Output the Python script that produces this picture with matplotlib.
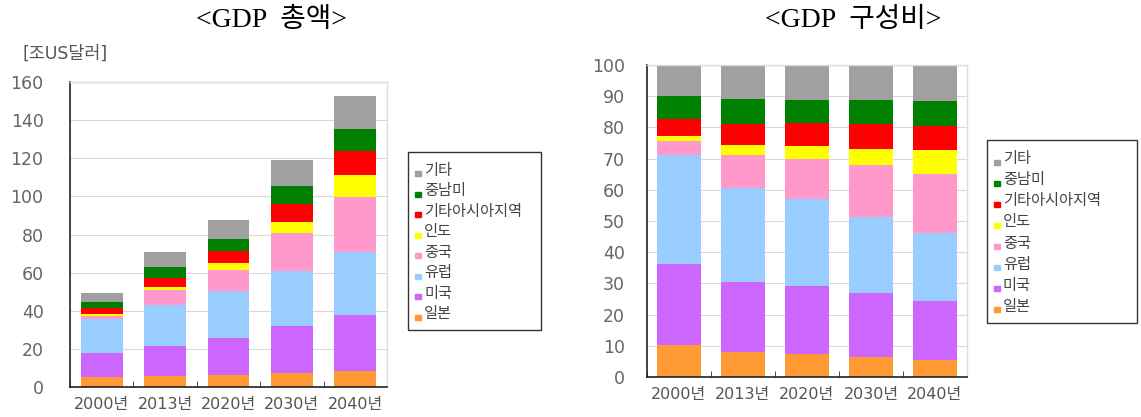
import numpy as np
import matplotlib.pyplot as plt
from matplotlib.patches import Rectangle

plt.rcParams['font.family'] = ['DejaVu Sans', 'Noto Sans CJK KR']

years = ['2000년', '2013년', '2020년', '2030년', '2040년']
regions = ['일본', '미국', '유럽', '중국', '인도', '기타아시아지역', '중남미', '기타']
colors = ['#FF9933', '#CC66FF', '#99CCFF', '#FF99CC', '#FFFF00', '#FF0000', '#008000', '#A0A0A0']

# GDP by region, trillion USD (bottom to top)
japan_amt = [5.0, 5.9, 6.5, 7.5, 8.4]
usa_amt = [13.0, 15.6, 19.2, 24.3, 29.2]
europe_amt = [17.7, 21.3, 24.6, 28.9, 33.2]
china_amt = [1.7, 7.9, 11.2, 20.1, 28.9]
india_amt = [1.1, 1.7, 3.5, 5.7, 11.5]
otherasia_amt = [2.9, 4.9, 6.2, 9.7, 12.6]
latam_amt = [3.2, 5.6, 6.2, 9.0, 11.5]
other_amt = [4.9, 7.7, 10.0, 13.7, 17.3]

# share of world GDP, % (bottom to top)
japan_pct = [10.3, 7.9, 7.3, 6.4, 5.4]
usa_pct = [25.8, 22.6, 21.9, 20.4, 18.9]
europe_pct = [34.9, 30.2, 27.8, 24.4, 21.7]
china_pct = [4.5, 10.4, 13.0, 16.6, 19.0]
india_pct = [1.6, 3.2, 4.1, 5.4, 7.6]
otherasia_pct = [5.6, 6.7, 7.3, 7.8, 7.9]
latam_pct = [7.4, 8.1, 7.4, 7.8, 8.0]
other_pct = [9.9, 10.9, 11.2, 11.2, 11.5]

amounts = [japan_amt, usa_amt, europe_amt, china_amt, india_amt,
           otherasia_amt, latam_amt, other_amt]
shares = [japan_pct, usa_pct, europe_pct, china_pct, india_pct,
          otherasia_pct, latam_pct, other_pct]

fig = plt.figure(figsize=(11.41, 4.17), dpi=100)
W, H = 1141, 417

def px_axes(x0, y0, x1, y1):
    return fig.add_axes([x0 / W, 1 - y1 / H, (x1 - x0) / W, (y1 - y0) / H])

def stacked(ax, data, width, ymax, step, ypad):
    x = np.arange(len(years))
    bottom = np.zeros(len(years))
    for vals, c, name in zip(data, colors, regions):
        ax.bar(x, vals, width, bottom=bottom, color=c, label=name, zorder=2)
        bottom += np.array(vals)
    ax.set_xlim(-0.5, len(years) - 0.5)
    ax.set_ylim(0, ymax)
    ax.set_yticks(np.arange(0, ymax + 1, step))
    ax.set_xticks(x)
    ax.set_xticklabels(years)
    ax.set_xticks(np.arange(-0.5, len(years)), minor=True)
    ax.tick_params(axis='x', which='major', length=0, pad=7,
                   labelsize=11.5, labelcolor='#555555')
    ax.tick_params(axis='x', which='minor', direction='in', length=4, color='#333333')
    ax.tick_params(axis='y', direction='in', length=0, pad=ypad,
                   labelsize=12.5, labelcolor='#666666')
    ax.grid(axis='y', color='#D8D8D8', linewidth=0.8, zorder=0)
    for s in ['left', 'bottom']:
        ax.spines[s].set_color('#222222')
        ax.spines[s].set_linewidth(1.2)
    for s in ['top', 'right']:
        ax.spines[s].set_color('#DDDDDD')
        ax.spines[s].set_linewidth(1.0)

def legend_box(x0, y0, x1, y1):
    fig.patches.append(Rectangle((x0 / W, 1 - y1 / H), (x1 - x0) / W, (y1 - y0) / H,
                                 transform=fig.transFigure, fill=False,
                                 edgecolor='#333333', linewidth=1.0))
    n = len(regions)
    row = (y1 - y0 - 14) / n
    for i, (name, c) in enumerate(zip(regions[::-1], colors[::-1])):
        yc = y0 + 8 + row * (i + 0.5)
        fig.patches.append(Rectangle(((x0 + 7) / W, 1 - (yc + 6) / H), 6 / W, 5 / H,
                                     transform=fig.transFigure, color=c))
        fig.text((x0 + 16) / W, 1 - yc / H, name, fontsize=11, color='#444444',
                 va='center', ha='left', family='Noto Sans CJK KR')

# left: total GDP
ax1 = px_axes(70, 82, 387, 387)
stacked(ax1, amounts, 0.66, 160, 20, 19)
fig.text(65 / W, 1 - 54 / H, '[조US달러]', fontsize=12.5, color='#555555',
         ha='center', va='center')
legend_box(408, 152, 541, 330)

# right: share of GDP
ax2 = px_axes(647, 65, 967, 377)
stacked(ax2, shares, 0.68, 100, 10, 16)
legend_box(987, 140, 1137, 323)

title_font = ['Liberation Serif', 'Noto Sans CJK KR']
fig.text(271 / W, 1 - 20 / H, '<GDP  총액>', fontsize=20, ha='center', va='center',
         family=title_font)
fig.text(853 / W, 1 - 20 / H, '<GDP  구성비>', fontsize=20, ha='center', va='center',
         family=title_font)

fig.savefig('out.png', dpi=100)
